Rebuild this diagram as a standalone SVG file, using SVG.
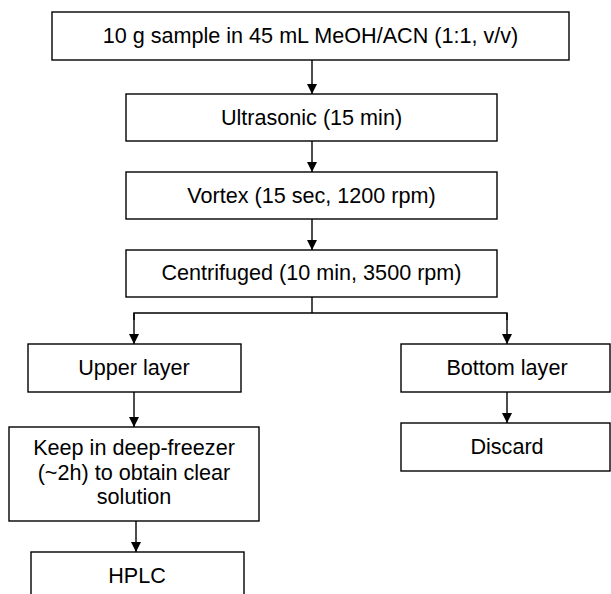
<svg xmlns="http://www.w3.org/2000/svg" width="611" height="594" viewBox="0 0 611 594">
<style>
.box{fill:#fff;stroke:#000;stroke-width:1.4}
.t{font-family:"Liberation Sans",Arial,sans-serif;font-size:21.6px;fill:#000;text-anchor:middle}
.c{fill:none;stroke:#000;stroke-width:1.4}
</style>
<defs>
<marker id="ah" markerUnits="userSpaceOnUse" markerWidth="12" markerHeight="12" refX="10" refY="5" orient="auto">
<path d="M0,0 L10,5 L0,10 Z" fill="#000"/>
</marker>
</defs>
<rect width="611" height="594" fill="#fff"/>
<g id="connectors">
<line class="c" x1="312" y1="60" x2="312" y2="94" marker-end="url(#ah)"/>
<line class="c" x1="312" y1="141" x2="312" y2="172" marker-end="url(#ah)"/>
<line class="c" x1="312" y1="219" x2="312" y2="250" marker-end="url(#ah)"/>
<polyline class="c" points="312,297 312,313"/>
<polyline class="c" points="134,320 134,313 507,313 507,320"/>
<line class="c" x1="134" y1="313" x2="134" y2="344" marker-end="url(#ah)"/>
<line class="c" x1="507" y1="313" x2="507" y2="344" marker-end="url(#ah)"/>
<line class="c" x1="134" y1="392" x2="134" y2="427" marker-end="url(#ah)"/>
<line class="c" x1="507" y1="392" x2="507" y2="423" marker-end="url(#ah)"/>
<line class="c" x1="136" y1="521" x2="136" y2="552" marker-end="url(#ah)"/>
</g>
<g id="n1"><rect class="box" x="52" y="12" width="517" height="48"/><text class="t" x="310.5" y="43">10 g sample in 45 mL MeOH/ACN (1:1, v/v)</text></g>
<g id="n2"><rect class="box" x="126" y="94" width="371" height="47"/><text class="t" x="311.5" y="125">Ultrasonic (15 min)</text></g>
<g id="n3"><rect class="box" x="126" y="172" width="371" height="47"/><text class="t" x="311.5" y="203">Vortex (15 sec, 1200 rpm)</text></g>
<g id="n4"><rect class="box" x="126" y="250" width="371" height="47"/><text class="t" x="311.5" y="280">Centrifuged (10 min, 3500 rpm)</text></g>
<g id="n5"><rect class="box" x="28" y="344" width="213" height="48"/><text class="t" x="134" y="375">Upper layer</text></g>
<g id="n6"><rect class="box" x="401" y="344" width="209" height="48"/><text class="t" x="507" y="375">Bottom layer</text></g>
<g id="n7"><rect class="box" x="401" y="423" width="209" height="48"/><text class="t" x="507" y="454">Discard</text></g>
<g id="n8"><rect class="box" x="9" y="427" width="250" height="94"/>
<text class="t" x="134" y="455">Keep in deep-freezer</text>
<text class="t" x="134" y="480">(~2h) to obtain clear</text>
<text class="t" x="134" y="504">solution</text></g>
<g id="n9"><rect class="box" x="31" y="552" width="213" height="50"/><text class="t" x="137" y="583">HPLC</text></g>
</svg>
